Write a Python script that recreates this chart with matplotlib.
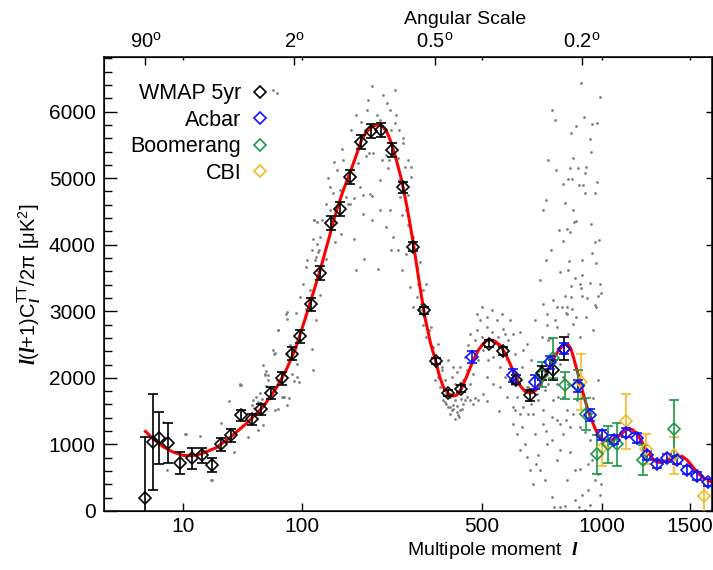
import numpy as np
import matplotlib
matplotlib.use('Agg')
import matplotlib.pyplot as plt
from matplotlib.lines import Line2D

plt.rcParams['font.family'] = ['Liberation Sans', 'DejaVu Sans']
plt.rcParams['mathtext.fontset'] = 'custom'
plt.rcParams['mathtext.rm'] = 'Liberation Sans'
plt.rcParams['mathtext.it'] = 'Liberation Serif:italic:bold'
plt.rcParams['mathtext.bf'] = 'Liberation Sans:bold'

# WMAP 5yr binned
wmap_l = [2, 3, 4, 6, 9, 13, 17, 22, 27, 33, 40, 48, 56, 65, 76, 87, 97, 111, 124, 140,
          155, 171, 191, 210, 231, 254, 278, 304, 332, 362, 397, 435, 525, 575, 623, 676,
          726, 773, 821]
wmap_d = [188, 1035, 1100, 1020, 719, 790, 835, 694, 1000, 1135, 1436, 1376, 1526, 1777,
          1992, 2364, 2624, 3103, 3570, 4328, 4534, 5011, 5546, 5707, 5722, 5421, 4860,
          3967, 3015, 2248, 1771, 1838, 2514, 2403, 1973, 1737, 2075, 2120, 2439]
wmap_err = [930, 727, 388, 300, 162, 163, 110, 108, 93, 93, 80, 80, 83, 93, 93, 100, 93,
            100, 105, 110, 110, 105, 107, 100, 100, 100, 88, 68, 55, 45, 45, 50, 55, 60,
            70, 80, 100, 145, 175]

# Acbar
acbar_l = [470, 610, 696, 759, 821, 882, 941, 1001, 1061, 1123, 1183, 1239, 1301, 1360,
           1418, 1481, 1545, 1622]
acbar_d = [2313, 2038, 1937, 2233, 2439, 1877, 1447, 1135, 1070, 1176, 1095, 835, 699,
           794, 759, 609, 523, 433]
acbar_err = [95, 100, 100, 100, 80, 88, 88, 75, 70, 70, 70, 65, 60, 60, 60, 60, 60, 55]

# Boomerang
boom_l = [726, 773, 824, 882, 920, 976, 1030, 1075, 1220, 1401]
boom_d = [2050, 2300, 1887, 1900, 1462, 850, 1000, 1000, 770, 1236]
boom_err = [188, 300, 208, 213, 238, 288, 280, 326, 226, 434]

# CBI
cbi_l = [896, 1001, 1123, 1235, 1401, 1595]
cbi_d = [1937, 944, 1346, 935, 835, 223]
cbi_err = [425, 270, 413, 223, 275, 250]

# best fit model
theory_l = [2, 3, 5, 7, 10, 13, 17, 24, 32, 44, 58, 71, 81, 92, 103, 113, 124, 136, 149,
            160, 171, 182, 192, 200, 208, 215, 222, 229, 235, 244, 253, 264, 276, 290, 304,
            318, 333, 348, 362, 372, 383, 397, 412, 423, 436, 454, 473, 490, 506, 518, 529,
            546, 564, 582, 600, 618, 637, 656, 676, 692, 710, 734, 759, 780, 802, 822, 839,
            850, 862, 885, 908, 928, 949, 965, 981, 1005, 1031, 1057, 1083, 1110, 1137,
            1160, 1183, 1210, 1239, 1268, 1297, 1327, 1357, 1392, 1428, 1455, 1481, 1513,
            1545, 1578, 1611, 1654]
theory_d = [1195, 1090, 959, 890, 835, 830, 860, 950, 1100, 1320, 1571, 1862, 2120, 2450,
            2865, 3230, 3617, 4060, 4519, 4820, 5071, 5330, 5571, 5680, 5747, 5785, 5797,
            5790, 5771, 5680, 5522, 5270, 4970, 4520, 4018, 3460, 2914, 2520, 2248, 2030,
            1862, 1765, 1726, 1745, 1838, 2040, 2263, 2420, 2514, 2560, 2574, 2550, 2489,
            2370, 2213, 2040, 1887, 1800, 1771, 1790, 1853, 2000, 2188, 2330, 2440, 2505,
            2495, 2440, 2313, 2040, 1762, 1540, 1361, 1240, 1135, 1070, 1050, 1075, 1120,
            1185, 1236, 1220, 1161, 1050, 910, 800, 734, 730, 759, 810, 835, 815, 770, 680,
            583, 520, 469, 424]

# unbinned WMAP points (grey cloud)
grey_l = [4.9, 10.6, 16.3, 5.7, 21.6, 31.3, 26.7, 34.9, 39.5, 47.8, 51.4, 59.3, 59.9, 70.7,
          77.7, 81.4, 87.1, 45.1, 52.8, 57.8, 72.4, 89.8, 11.0, 22, 39, 71.8, 80.6, 84.3,
          93, 67.3, 68, 77, 60, 57.8, 56.6, 53, 49.8, 48.6, 55.3, 68.8, 62.5, 79, 39.1,
          59.3, 62, 68.7, 72.4, 81.4, 82, 85, 90.2, 93.7, 95.9, 104.7, 110, 112, 114, 116.2,
          118, 121.3, 119, 116, 120, 106.6, 120, 76, 81.4, 92, 116, 118, 122, 124, 133, 136,
          139, 145, 147, 154.5, 156, 157, 164, 168, 179, 179, 185, 192, 195, 200, 206, 213,
          214, 222, 228, 228, 242, 245, 247, 260, 263, 268, 271, 278, 284, 280, 287, 272,
          276, 291, 291, 297, 304, 312, 320, 308, 316, 336, 304, 324, 251, 250, 225, 232,
          189, 182, 172, 208, 197, 114, 124, 213, 235, 260, 250, 205, 244, 67, 71, 336, 345,
          328, 368, 373, 383, 392, 402, 412, 422, 432, 418, 436, 408, 410, 422, 442, 453,
          463, 473, 479, 484, 490, 495, 501, 506, 517, 523, 535, 540, 552, 558, 564, 575,
          581, 593, 600, 606, 618, 625, 637, 644, 650, 663, 669, 682, 689, 696, 703, 710,
          724, 731, 745, 752, 759, 766, 788, 795, 809, 817, 832, 839, 625, 663, 689, 717,
          745, 766, 788, 802, 832, 846, 869, 891, 915, 931, 963, 980, 940, 915, 891, 862,
          846, 817, 788, 766, 731, 696, 669, 644, 618, 731, 780, 790, 832, 862, 891, 920,
          953, 969, 980, 896, 990, 911, 951, 973, 872, 852, 941, 944, 859, 846, 882, 920,
          917, 817, 838, 855, 887, 905, 973, 917, 963, 824, 862, 866, 872, 946, 832, 845,
          813, 963, 985, 951, 842, 904, 968, 800, 839, 869, 904, 990, 895, 852, 899, 938,
          993, 824, 849, 903, 925, 980, 963, 834, 857, 872, 828, 741, 762, 784, 717, 770,
          748, 777, 824, 887, 940, 402, 417, 428, 446, 368, 350, 378, 478, 520, 560, 610,
          655, 700, 740, 760, 800, 930, 955, 995,
          388, 397, 407, 412, 422, 427, 437, 442, 402, 392, 453, 463, 473, 355, 360, 378,
          388, 397, 417, 432, 448, 458, 463, 484, 501, 517, 535, 552, 570, 581, 587, 612,
          631, 650, 663, 682, 703, 717, 738, 752, 773, 788, 802, 817, 839, 517, 540, 564,
          587, 612, 637, 506, 490, 182, 202, 174, 160, 149, 143, 127, 124, 112, 105, 101,
          97, 195, 212, 228, 242, 256, 268, 276, 287, 295, 312, 328, 336, 320, 280, 291,
          299, 271, 251, 139, 133, 731, 752, 780, 799, 741, 769, 738, 802, 869, 904, 951,
          990, 710, 676, 637, 940, 878, 828]
grey_d = [1335, 1161, 1120, 620, 469, 1647, 1320, 884, 1898, 1597, 1711, 2038, 1872, 1962,
          1711, 1586, 2063, 1110, 1221, 1286, 1537, 1947, 1150, 459, 1887, 2725, 2965, 1696,
          2012, 2414, 2364, 1711, 2098, 2188, 1687, 1636, 1546, 1672, 1771, 1511, 1962,
          1711, 1902, 2063, 2038, 2379, 2714, 2890, 2353, 2489, 2439, 2213, 1937, 3040, 3316,
          2439, 2113, 3778, 2865, 3892, 4018, 4368, 4343, 3778, 3617, 1711, 2990, 2974, 4368,
          3817, 3917, 3241, 3792, 4996, 4519, 5245, 4042, 4820, 4168, 5431, 4710, 4609, 4695,
          4093, 5221, 5847, 4744, 5331, 5380, 4729, 5371, 5947, 5872, 4970, 5346, 5146, 5271,
          5822, 5947, 5296, 4970, 5597, 5170, 4845, 4519, 4719, 4444, 4744, 4293, 5020, 4118,
          3667, 3742, 3817, 3417, 3417, 3065, 3116, 3917, 4519, 3642, 5271, 4870, 3617, 4619,
          4759, 3792, 4093, 3642, 6383, 6248, 6323, 6023, 6173, 6128, 6323, 6278, 2614, 2714,
          2790, 2012, 1862, 1662, 1612, 1561, 1536, 1571, 1511, 1662, 1687, 2012, 2163, 2087,
          1962, 2113, 1913, 2063, 2564, 2714, 2263, 2865, 2614, 2414, 2764, 2263, 2689, 2313,
          2865, 2614, 2163, 2740, 2012, 2564, 2865, 1913, 2364, 1711, 2689, 2163, 1561, 2514,
          1862, 2263, 1462, 2865, 2012, 1662, 2614, 1511, 2965, 1913, 2263, 1411, 2764, 1711,
          3065, 2012, 1511, 2664, 1160, 809, 409, 609, 1010, 208, 759, 57, 459, 884, 158,
          634, 8, 308, 459, 559, 1060, 1185, 1260, 1462, 1260, 1160, 1361, 1060, 1311, 1160,
          1462, 1260, 1511, 3116, 2865, 3065, 2965, 2815, 2614, 2914, 2714, 3065, 1962, 6424,
          6223, 5913, 5808, 5822, 5782, 5681, 5586, 5396, 5296, 5146, 5155, 5161, 5080, 4905,
          4980, 4980, 4895, 4895, 4945, 4770, 4770, 4629, 4519, 4343, 4358, 4304, 4233, 4193,
          4057, 4042, 4078, 3877, 3757, 3767, 3727, 3591, 3627, 3507, 3541, 3417, 3417, 3376,
          3356, 3426, 3275, 3226, 3215, 3226, 3206, 3226, 3090, 3065, 3040, 2914, 2975, 4670,
          3920, 5120, 3466, 3165, 2790, 53, 68, 53, 83, 1462, 1386, 1411, 1662, 2514, 2764,
          2113, 1700, 1650, 1500, 1300, 1000, 700, 1200, 2600, 1300, 700, 1700, 400,
          1636, 1561, 1511, 1586, 1486, 1436, 1536, 1612, 1711, 1762, 1711, 1662, 1612, 2464,
          1962, 2163, 1962, 2263, 1913, 2163, 2313, 2489, 2664, 2965, 3065, 2914, 3015, 2514,
          2965, 2664, 2289, 2664, 2012, 2414, 1862, 1612, 1762, 2163, 1812, 2564, 1662, 1913,
          2213, 1711, 1913, 2012, 1913, 1862, 1711, 1561, 1462, 1762, 1662, 5947, 6023, 5722,
          5271, 5120, 4770, 4368, 4118, 3917, 3667, 3417, 3215, 4469, 4368, 4519, 4268, 4118,
          3917, 3617, 3868, 3366, 3215, 3316, 3065, 3015, 5522, 5271, 5170, 5722, 5722, 4870,
          4619, 4519, 5271, 5872, 4218, 3767, 6023, 459, 910, 609, 233, 759, 233, 835, 609,
          910, 1361, 1662, 1361]

angle_pos = [2, 90, 360, 900]
angle_lab = ['90$^{\\rm o}$', '2$^{\\rm o}$', '0.5$^{\\rm o}$', '0.2$^{\\rm o}$']
xticks = [10, 100, 500, 1000, 1500]


def fwd(l):
    l = np.asarray(l, dtype=float)
    return np.sign(l) * np.abs(l) ** 0.4


def inv(u):
    u = np.asarray(u, dtype=float)
    return np.sign(u) * np.abs(u) ** 2.5


fig = plt.figure(figsize=(7.13, 5.70), dpi=100)
ax = fig.add_axes([104 / 713, 1 - 511 / 570, 608 / 713, 454 / 570])
ax.set_xscale('function', functions=(fwd, inv))
ax.set_xlim(0, 1646)
ax.set_ylim(0, 6820)

ax.scatter(grey_l, grey_d, s=4, color='#7f7f7f', linewidths=0, zorder=1)
ax.plot(theory_l, theory_d, color='#ff0000', lw=2.2, zorder=2)

ebkw = dict(fmt='D', ms=6.5, mfc='none', mew=1.2, capsize=3.3, elinewidth=1.2,
            capthick=1.2, zorder=3)
ax.errorbar(cbi_l, cbi_d, yerr=cbi_err, color='#f6b929', **ebkw)
ax.errorbar(boom_l, boom_d, yerr=boom_err, color='#1c9a44', **ebkw)
ax.errorbar(wmap_l, wmap_d, yerr=wmap_err, color='black', **ebkw)
ax.errorbar(acbar_l, acbar_d, yerr=acbar_err, color='#1010ff', **ebkw)

# legend
handles = [Line2D([], [], ls='none', marker='D', ms=6.5, mfc='none', mew=1.2, color=c)
           for c in ['black', '#1010ff', '#1c9a44', '#f6b929']]
ax.legend(handles, ['WMAP 5yr', 'Acbar', 'Boomerang', 'CBI'], markerfirst=False,
          frameon=False, fontsize=15.5, loc='upper left', bbox_to_anchor=(0.019, 0.975),
          handlelength=0.8, handletextpad=0.45, labelspacing=0.25, borderaxespad=0.3)

# axes
ax.set_xticks(xticks)
ax.set_xticklabels([str(t) for t in xticks])
ax.xaxis.set_minor_locator(matplotlib.ticker.NullLocator())
ax.set_yticks(np.arange(0, 7000, 1000))
ax.set_yticks(np.arange(0, 6900, 200), minor=True)
ax.tick_params(axis='x', direction='in', length=6, width=1, labelsize=15, pad=4)
ax.tick_params(axis='y', which='major', direction='in', length=9, width=1,
               labelsize=15, pad=6)
ax.tick_params(axis='y', which='minor', direction='in', length=5.5, width=1)
for s in ax.spines.values():
    s.set_linewidth(1.1)

ax.set_xlabel('Multipole moment  $l$', fontsize=14)
ax.xaxis.set_label_coords((493 - 104) / 608, -0.063)
ax.set_ylabel('$l(l$+1)C$_l^{\\rm TT}$/2$\\rm\\pi$ [$\\rm\\mu$K$^2$]', fontsize=14.5,
              labelpad=4)

top = ax.twiny()
top.set_xscale('function', functions=(fwd, inv))
top.set_xlim(ax.get_xlim())
top.set_xticks(angle_pos)
top.set_xticklabels(angle_lab)
top.set_xticks(xticks, minor=True)
top.tick_params(which='major', direction='in', length=6, width=1, labelsize=14.5, pad=4)
top.tick_params(which='minor', direction='in', length=2.5, width=1)
top.set_xlabel('Angular Scale', fontsize=14)
top.xaxis.set_label_coords((465 - 104) / 608, 1.072)

right = ax.secondary_yaxis('right')
right.set_yticks(np.arange(0, 7000, 1000))
right.set_yticklabels([])
right.tick_params(direction='in', length=4, width=1)

fig.savefig('out.png', dpi=100)
